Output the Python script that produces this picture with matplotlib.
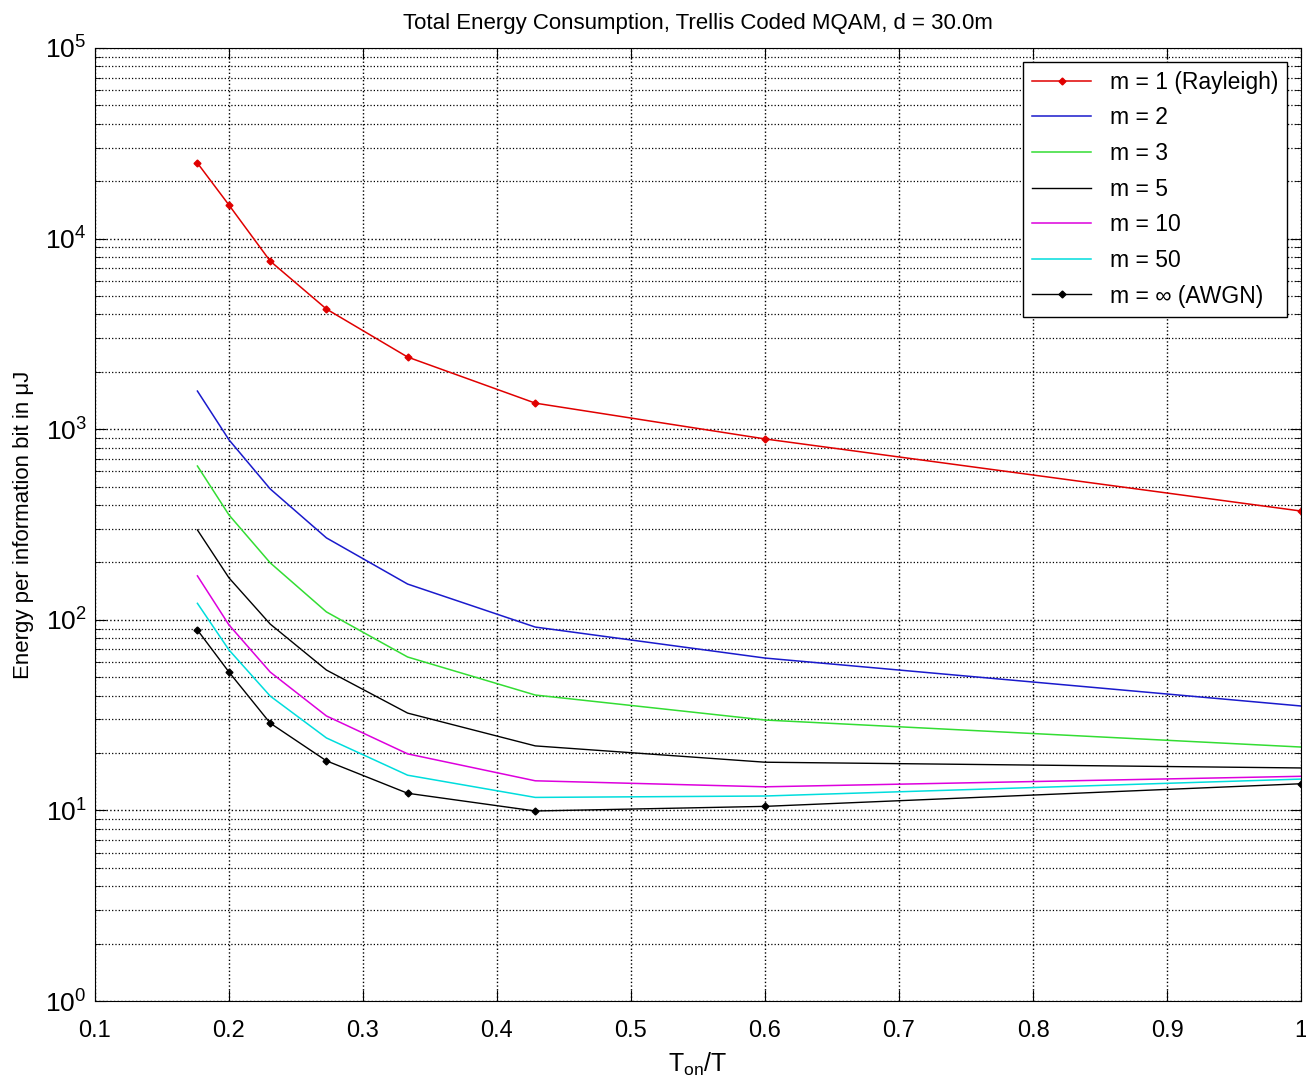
import numpy as np
import matplotlib
matplotlib.use("Agg")
import matplotlib.pyplot as plt

plt.rcParams['font.family'] = ['Liberation Sans', 'DejaVu Sans']
plt.rcParams['mathtext.fontset'] = 'custom'
plt.rcParams['mathtext.rm'] = 'Liberation Sans'
plt.rcParams['mathtext.it'] = 'Liberation Sans'

# T_on / T values
ton = [3/17, 3/15, 3/13, 3/11, 3/9, 3/7, 3/5, 3/3]

# energy per information bit (uJ)
m1 = [24900, 15000, 7620, 4270, 2390, 1370, 889, 372]
m2 = [1585, 880, 486, 269, 154, 91.6, 63, 35.3]
m3 = [641, 355, 199, 110, 63.8, 40.3, 29.8, 21.5]
m5 = [296, 166, 95, 54.5, 32.4, 21.8, 17.9, 16.7]
m10 = [170, 94, 53.2, 31.3, 19.8, 14.3, 13.3, 15.1]
m50 = [122, 69.5, 39.8, 24, 15.3, 11.7, 11.9, 14.6]
awgn = [88.4, 53.2, 28.7, 18.2, 12.3, 9.93, 10.5, 13.8]

fig = plt.figure(figsize=(13.06, 10.83), dpi=100)
ax = fig.add_axes([0.0727, 0.0757, 0.9235, 0.88])

ax.semilogy(ton, m1, color='#e00000', marker='D', markersize=3.5, lw=1.1, label='m = 1 (Rayleigh)')
ax.semilogy(ton, m2, color='#1a1acc', lw=1.1, label='m = 2')
ax.semilogy(ton, m3, color='#33dd33', lw=1.1, label='m = 3')
ax.semilogy(ton, m5, color='black', lw=1.0, label='m = 5')
ax.semilogy(ton, m10, color='#dd00dd', lw=1.1, label='m = 10')
ax.semilogy(ton, m50, color='#00dddd', lw=1.1, label='m = 50')
ax.semilogy(ton, awgn, color='black', marker='D', markersize=3.5, lw=1.0, label='m = \u221e (AWGN)')

ax.set_xlim(0.1, 1.0)
ax.set_ylim(1, 1e5)
ax.set_xticks(np.arange(0.1, 1.01, 0.1))
ax.set_xticklabels(['0.1', '0.2', '0.3', '0.4', '0.5', '0.6', '0.7', '0.8', '0.9', '1'])
ax.set_yticks([1, 10, 100, 1000, 1e4, 1e5])
ax.set_yticklabels([r'$10^{0}$', r'$10^{1}$', r'$10^{2}$', r'$10^{3}$', r'$10^{4}$', r'$10^{5}$'])

ax.grid(True, which='major', linestyle=':', color='black', lw=1.0)
ax.grid(True, which='minor', axis='y', linestyle=':', color='black', lw=0.9)
ax.tick_params(which='both', direction='in', top=True, right=True, labelsize=17)
ax.tick_params(axis='y', labelsize=19, pad=6)
ax.tick_params(which='major', length=8)
ax.tick_params(which='minor', length=4)
ax.tick_params(axis='x', pad=14)

ax.set_title('Total Energy Consumption, Trellis Coded MQAM, d = 30.0m', fontsize=16, pad=14)
ax.set_xlabel(r'T$_{\mathregular{on}}$/T', fontsize=18, labelpad=6)
ax.set_ylabel('Energy per information bit in \u03bcJ', fontsize=16, labelpad=8)

leg = ax.legend(loc='upper right', fontsize=16.5, fancybox=False, edgecolor='black',
                framealpha=1, handlelength=2.6, borderpad=0.4, labelspacing=0.55,
                borderaxespad=0.6)
leg.get_frame().set_linewidth(1.0)

fig.savefig('out.png', dpi=100)
